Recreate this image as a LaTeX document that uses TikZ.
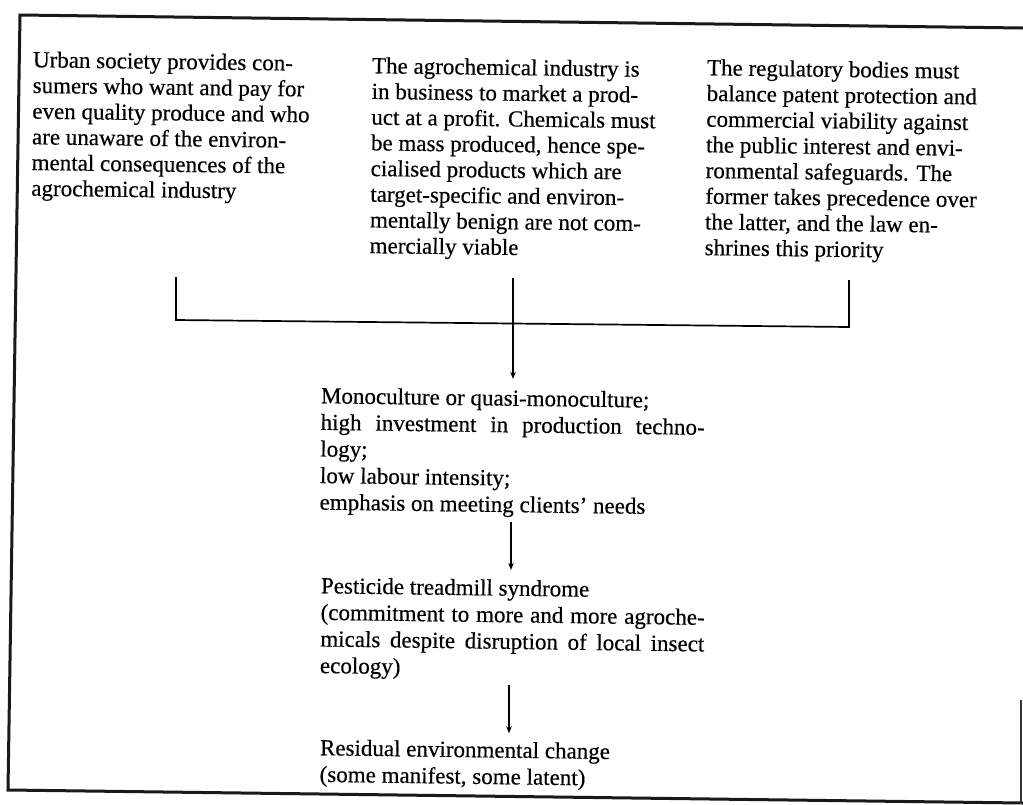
\documentclass[tikz,border=0pt]{standalone}
\usepackage{fontspec}
\setmainfont{Liberation Serif}[FakeBold=0.4]
\usetikzlibrary{arrows.meta}
\tikzset{
  toptxt/.style={anchor=north west, inner sep=0pt, align=left, rotate=-0.75,
    font=\fontsize{23}{25.7}\selectfont},
  midtxt/.style={anchor=north west, inner sep=0pt, align=left, rotate=-0.75,
    font=\fontsize{23}{26.6}\selectfont},
  frameline/.style={line width=3pt, line cap=round, black!90},
  conn/.style={line width=1.7pt, black},
  arr/.style={conn, -{Stealth[length=7pt,width=5.5pt]}}
}
\begin{document}
\begin{tikzpicture}[x=1pt,y=-1pt]
\useasboundingbox (0,0) rectangle (1023,804);
\fill[white] (0,0) rectangle (1023,804);

% frame (scanned page, slightly tilted)
\coordinate (ftl) at (20,15);
\coordinate (ftr) at (1023,28);
\coordinate (fbl) at (8,790);
\coordinate (fbr) at (1023,803);
\coordinate (frt) at (1021,700);
\coordinate (frb) at (1021,804);
\draw[frameline] (ftr) -- (ftl) -- (fbl) -- (fbr);
\draw[line width=2pt, black!80] (frt) -- (frb);

% top three statements
\node[toptxt] (urban) at (33,49) {\strut Urban society provides con-\\
sumers who want and pay for\\
even quality produce and who\\
are unaware of the environ-\\
mental consequences of the\\
agrochemical industry};

\node[toptxt] (industry) at (372,55) {\strut The agrochemical industry is\\
in business to market a prod-\\
uct at a profit. Chemicals must\\
be mass produced, hence spe-\\
cialised products which are\\
target-specific and environ-\\
mentally benign are not com-\\
mercially viable};

\node[toptxt] (regul) at (707,57) {\strut The regulatory bodies must\\
balance patent protection and\\
commercial viability against\\
the public interest and envi-\\
ronmental safeguards. The\\
former takes precedence over\\
the latter, and the law en-\\
shrines this priority};

% lower chain
\node[midtxt] (mono) at (321,384.4) {\strut Monoculture or quasi-monoculture;\\
\makebox[384pt][s]{high investment in production techno-}\\
logy;\\
low labour intensity;\\
emphasis on meeting clients' needs};

\node[midtxt] (pest) at (321,574.4) {\strut Pesticide treadmill syndrome\\
\makebox[384pt][s]{(commitment to more and more agroche-}\\
\makebox[384pt][s]{micals despite disruption of local insect}\\
ecology)};

\node[midtxt] (resid) at (320,736.4) {\strut Residual environmental change\\
(some manifest, some latent)};

% bracket joining the three statements
\coordinate (lt) at (176,277);
\coordinate (lb) at (176,320);
\coordinate (ct) at (513,278);
\coordinate (rt) at (849,280);
\coordinate (rb) at (849,327);
\draw[conn] (lt) -- (lb) -- (rb) -- (rt);

% arrows
\coordinate (ax1) at (513,0);
\coordinate (ax2) at (511,0);
\coordinate (ax3) at (509,0);
\draw[arr, shorten >=8pt] (ct) -- (mono.north -| ax1);
\draw[arr, shorten <=5pt, shorten >=7pt] (mono.south -| ax2) -- (pest.north -| ax2);
\draw[arr, shorten <=4pt, shorten >=5pt] (pest.south -| ax3) -- (resid.north -| ax3);
\end{tikzpicture}
\end{document}
